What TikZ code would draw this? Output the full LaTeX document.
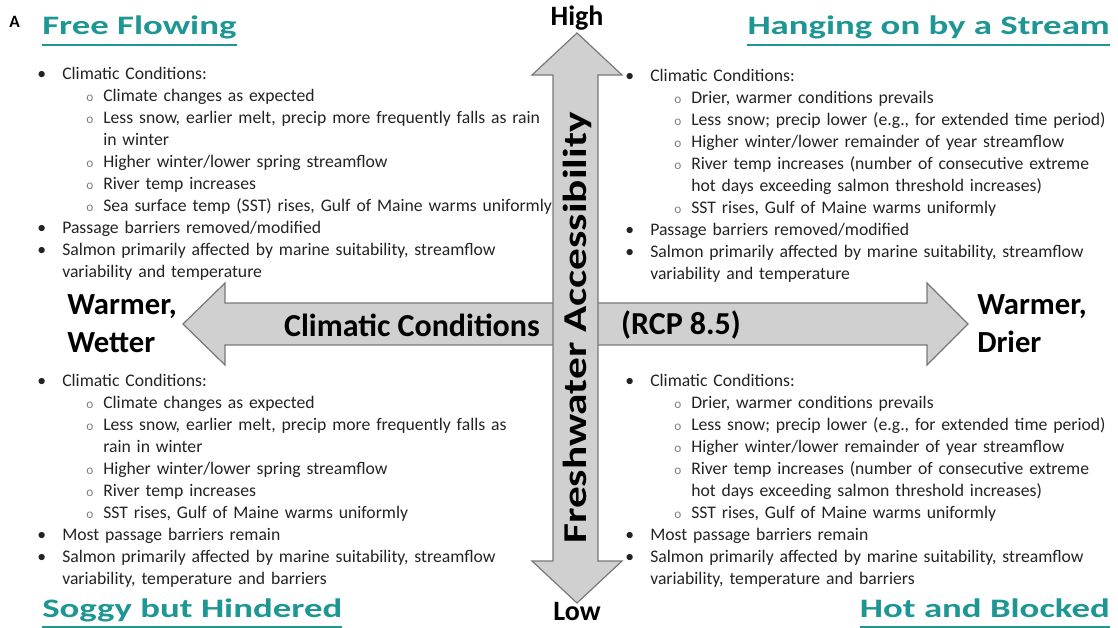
\documentclass[tikz,border=0pt]{standalone}
\usepackage{fontspec}
\setmainfont{Carlito}
\usepackage{graphicx}
\usepackage{xcolor}
\usetikzlibrary{positioning}

\definecolor{titleteal}{RGB}{30,150,148}
\definecolor{arrowfill}{RGB}{208,208,208}
\definecolor{arrowline}{RGB}{120,120,120}
\definecolor{bodytext}{RGB}{35,35,35}

% wide look of the headings
\newcommand{\widetitle}[1]{\scalebox{1.38}[1]{#1}}
\newcommand{\subdot}{{\color{gray}\fontsize{10}{10}\selectfont o}}

\newenvironment{pointlist}{\begin{list}{\textbullet}{%
  \setlength\leftmargin{18.75pt}\setlength\labelwidth{18.75pt}\setlength\labelsep{0pt}%
  \setlength\itemsep{0pt}\setlength\parsep{0pt}\setlength\topsep{0pt}\setlength\partopsep{0pt}%
  \def\makelabel##1{##1\hfil}}}{\end{list}}
\newenvironment{subpointlist}{\begin{list}{\subdot}{%
  \setlength\leftmargin{30.75pt}\setlength\labelwidth{12.75pt}\setlength\labelsep{0pt}%
  \setlength\itemsep{0pt}\setlength\parsep{0pt}\setlength\topsep{0pt}\setlength\partopsep{0pt}%
  \def\makelabel##1{##1\hfil}}}{\end{list}}

\tikzset{
  titletext/.style={inner sep=0pt, text=titleteal, font=\fontsize{20}{24}\selectfont\bfseries},
  titleline/.style={draw=titleteal, line width=1.5pt},
  bodyblock/.style={inner sep=0pt, anchor=north west, text width=420pt, align=left,
    text=bodytext, font=\fontsize{13.25}{16.5}\selectfont},
  arrowbody/.style={fill=arrowfill, draw=arrowline, line width=0.9pt, line join=miter},
  axislabel/.style={inner sep=0pt, font=\fontsize{21}{24}\selectfont\bfseries},
  sidelabel/.style={inner sep=0pt, anchor=west, align=left, font=\fontsize{23}{28.5}\selectfont\bfseries},
}

\begin{document}
\begin{tikzpicture}[x=0.75pt, y=-0.75pt]
\useasboundingbox (0,0) rectangle (1118,628);

% quadrant texts
\node[bodyblock] (ffText) at (37,57.6) {\begin{pointlist}
  \item\strut Climatic Conditions:
  \begin{subpointlist}
    \item Climate changes as expected
    \item Less snow, earlier melt, precip more frequently falls as rain\\ in winter
    \item Higher winter/lower spring streamflow
    \item River temp increases
    \item Sea surface temp (SST) rises, Gulf of Maine warms uniformly
  \end{subpointlist}
  \item Passage barriers removed/modified
  \item Salmon primarily affected by marine suitability, streamflow\\ variability and temperature
\end{pointlist}};
\node[bodyblock] (hsText) at (625,59.6) {\begin{pointlist}
  \item\strut Climatic Conditions:
  \begin{subpointlist}
    \item Drier, warmer conditions prevails
    \item Less snow; precip lower (e.g., for extended time period)
    \item Higher winter/lower remainder of year streamflow
    \item River temp increases (number of consecutive extreme\\ hot days exceeding salmon threshold increases)
    \item SST rises, Gulf of Maine warms uniformly
  \end{subpointlist}
  \item Passage barriers removed/modified
  \item Salmon primarily affected by marine suitability, streamflow\\ variability and temperature
\end{pointlist}};
\node[bodyblock] (shText) at (37,364.6) {\begin{pointlist}
  \item\strut Climatic Conditions:
  \begin{subpointlist}
    \item Climate changes as expected
    \item Less snow, earlier melt, precip more frequently falls as\\ rain in winter
    \item Higher winter/lower spring streamflow
    \item River temp increases
    \item SST rises, Gulf of Maine warms uniformly
  \end{subpointlist}
  \item Most passage barriers remain
  \item Salmon primarily affected by marine suitability, streamflow\\ variability, temperature and barriers
\end{pointlist}};
\node[bodyblock] (hbText) at (625,364.6) {\begin{pointlist}
  \item\strut Climatic Conditions:
  \begin{subpointlist}
    \item Drier, warmer conditions prevails
    \item Less snow; precip lower (e.g., for extended time period)
    \item Higher winter/lower remainder of year streamflow
    \item River temp increases (number of consecutive extreme\\ hot days exceeding salmon threshold increases)
    \item SST rises, Gulf of Maine warms uniformly
  \end{subpointlist}
  \item Most passage barriers remain
  \item Salmon primarily affected by marine suitability, streamflow\\ variability, temperature and barriers
\end{pointlist}};

% climate arrow (left-right)
\draw[arrowbody] (225,303) -- (225,283) -- (183,324) -- (225,365) -- (225,345)
  -- (927,345) -- (927,365) -- (968,324) -- (927,283) -- (927,303) -- cycle;
% freshwater arrow (up-down)
\draw[arrowbody] (553,75) -- (532,75) -- (577,33) -- (622,75) -- (598,75)
  -- (598,561) -- (622,561) -- (577,603) -- (532,561) -- (553,561) -- cycle;

\node[axislabel, font=\fontsize{24}{28}\selectfont\bfseries] (climLabel) at (412,325) {Climatic Conditions};
\node[axislabel, font=\fontsize{24}{28}\selectfont\bfseries] (rcpLabel) at (681,325) {(RCP 8.5)};
\node[axislabel, rotate=90, font=\fontsize{25}{28}\selectfont\bfseries] (freshLabel) at (577,328) {\scalebox{1.3}[1]{Freshwater Accessibility}};
\node[axislabel] (highLabel) at (577,18) {High};
\node[axislabel] (lowLabel) at (577,612) {Low};

\node[sidelabel] (wetLabel) at (67,324) {Warmer,\\Wetter};
\node[sidelabel] (dryLabel) at (977,324) {Warmer,\\Drier};

\node[inner sep=0pt, anchor=base west, font=\fontsize{13}{15}\selectfont\bfseries] (panelA) at (9,27) {A};

% quadrant titles
\node[titletext, anchor=base west] (ffTitle) at (42,35) {\widetitle{Free Flowing}};
\node[titletext, anchor=base east] (hsTitle) at (1110,35) {\widetitle{Hanging on by a Stream}};
\node[titletext, anchor=base west] (shTitle) at (42,617) {\widetitle{Soggy but Hindered}};
\node[titletext, anchor=base east] (hbTitle) at (1110,617) {\widetitle{Hot and Blocked}};
\foreach \t in {ffTitle,hsTitle,shTitle,hbTitle}
  \draw[titleline] ([yshift=-7.5pt]\t.base west) -- ([yshift=-7.5pt]\t.base east);
\end{tikzpicture}
\end{document}
